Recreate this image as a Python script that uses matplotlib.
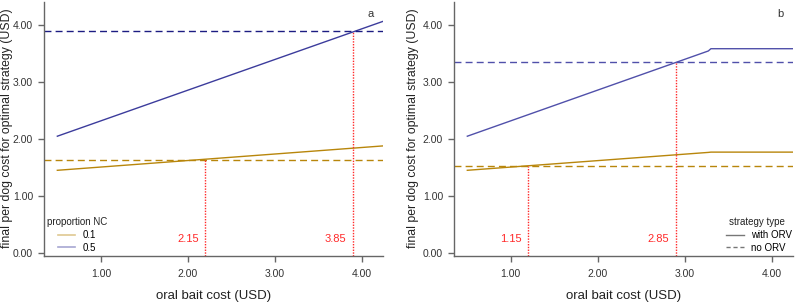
import matplotlib.pyplot as plt
from matplotlib.lines import Line2D

plt.rcParams['font.family'] = ['Liberation Sans', 'DejaVu Sans']

# panel a: proportion NC, with ORV
x_a = [0.5, 4.25]
with_orv_a_01 = [1.45, 1.88]
with_orv_a_05 = [2.05, 4.075]
no_orv_a_01 = 1.64
no_orv_a_05 = 3.90
cross_a = [2.2, 3.9]
cross_y_a = [1.64, 3.90]
cross_lab_a = ['2.15', '3.85']

# panel b: strategy with ORV vs no ORV
x_b = [0.5, 3.27, 3.3, 4.25]
with_orv_b_01 = [1.45, 1.765, 1.77, 1.77]
with_orv_b_05 = [2.05, 3.55, 3.59, 3.59]
no_orv_b_01 = 1.52
no_orv_b_05 = 3.36
cross_b = [1.2, 2.9]
cross_y_b = [1.52, 3.36]
cross_lab_b = ['1.15', '2.85']

ORANGE = '#b8860b'
BLUE_A = '#3c3c9c'
BLUE_DASH_A = '#1c1c82'
BLUE_B = '#5050aa'
RED = '#ff2a2a'
AXCOL = '#666666'

fig = plt.figure(figsize=(7.95, 3.02), dpi=100)
ax1 = fig.add_axes([0.0557, 0.152, 0.4257, 0.841])
ax2 = fig.add_axes([0.5714, 0.152, 0.4257, 0.841])

def style(ax, letter, ylab_x):
    ax.set_xlim(0.35, 4.24)
    ax.set_ylim(-0.06, 4.41)
    for s in ['top', 'right']:
        ax.spines[s].set_visible(False)
    for s in ['left', 'bottom']:
        ax.spines[s].set_color(AXCOL)
        ax.spines[s].set_linewidth(1.0)
    ax.set_xticks([1, 2, 3, 4])
    ax.set_yticks([0, 1, 2, 3, 4])
    ax.xaxis.set_major_formatter(plt.FuncFormatter(lambda v, _: f'{v:.2f}'))
    ax.yaxis.set_major_formatter(plt.FuncFormatter(lambda v, _: f'{v:.2f}'))
    ax.tick_params(axis='both', colors=AXCOL, labelcolor='#333333', labelsize=7.5,
                   length=4.5, width=1.0)
    ax.tick_params(axis='x', pad=5)
    ax.set_xlabel('oral bait cost (USD)', fontsize=9.5, color='#222222', labelpad=8)
    ax.set_ylabel('final per dog cost for optimal strategy (USD)', fontsize=8.8,
                  color='#222222')
    ax.yaxis.set_label_coords(ylab_x, 0.504)
    ax.text(4.1, 4.2, letter, fontsize=8, color='#333333', ha='center', va='center')

def add_legend(ax, handles, labels, title, tx, hx):
    ax.text(tx, 0.135, title, transform=ax.transAxes, fontsize=7, color='#222222',
            ha='left', va='center')
    ax.legend(handles, labels, loc='upper left', bbox_to_anchor=(hx, 0.102),
              frameon=False, fontsize=7, handlelength=1.8, handletextpad=0.75,
              labelspacing=0.25, borderpad=0, borderaxespad=0)

# panel a
ax1.plot(x_a, with_orv_a_01, color=ORANGE, lw=1.0)
ax1.plot(x_a, with_orv_a_05, color=BLUE_A, lw=1.0)
ax1.axhline(no_orv_a_01, color=ORANGE, lw=1.0, ls=(0, (5, 3)))
ax1.axhline(no_orv_a_05, color=BLUE_DASH_A, lw=1.0, ls=(0, (5, 3)))
for xc, yc, lab in zip(cross_a, cross_y_a, cross_lab_a):
    ax1.vlines(xc, -0.06, yc, color=RED, lw=1.0, ls=(0, (1, 1)))
    ax1.text(xc - 0.2, 0.24, lab, color=RED, fontsize=8, ha='center', va='center')
style(ax1, 'a', -0.093)
h_a = [Line2D([], [], color=ORANGE, alpha=0.45, lw=1.2),
       Line2D([], [], color=BLUE_A, alpha=0.45, lw=1.2)]
add_legend(ax1, h_a, ['0.1', '0.5'], 'proportion NC', 0.007, 0.04)

# panel b
ax2.plot(x_b, with_orv_b_01, color=ORANGE, lw=1.0)
ax2.plot(x_b, with_orv_b_05, color=BLUE_B, lw=1.0)
ax2.axhline(no_orv_b_01, color=ORANGE, lw=1.0, ls=(0, (5, 3)))
ax2.axhline(no_orv_b_05, color=BLUE_B, lw=1.0, ls=(0, (5, 3)))
for xc, yc, lab in zip(cross_b, cross_y_b, cross_lab_b):
    ax2.vlines(xc, -0.06, yc, color=RED, lw=1.0, ls=(0, (1, 1)))
    ax2.text(xc - 0.2, 0.24, lab, color=RED, fontsize=8, ha='center', va='center')
style(ax2, 'b', -0.105)
h_b = [Line2D([], [], color='#777777', lw=1.0),
       Line2D([], [], color='#777777', lw=1.0, ls=(0, (3, 2)))]
add_legend(ax2, h_b, ['with ORV', 'no ORV'], 'strategy type', 0.812, 0.803)

fig.savefig('out.png', dpi=100)
